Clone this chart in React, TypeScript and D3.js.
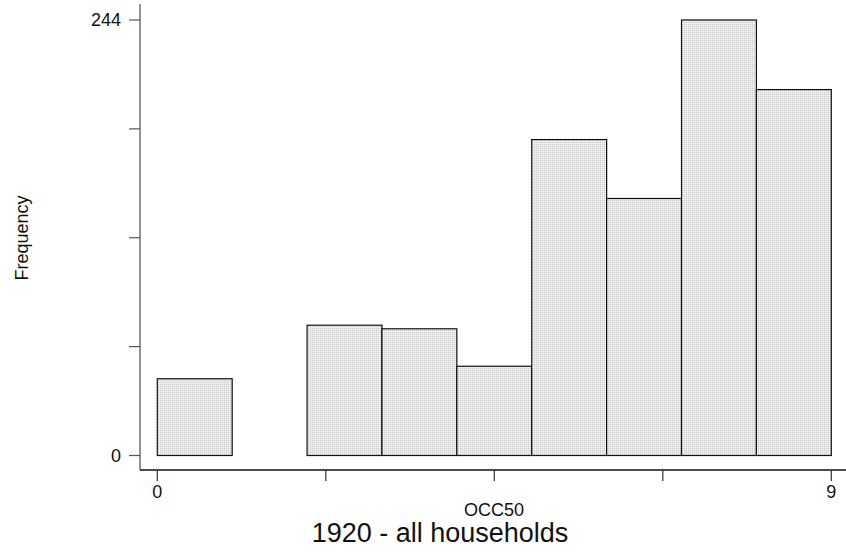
import React from "react";
import * as d3 from "d3";

const binStarts = [0, 1, 2, 3, 4, 5, 6, 7, 8];
const binWidth = 1;
const frequencies = [43, 0, 73, 71, 50, 177, 144, 244, 205];
const yTicks = [0, 61, 122, 183, 244];
const yTickLabels = ["0", "", "", "", "244"];
const xTicks = [0, 2.25, 4.5, 6.75, 9];
const xTickLabels = ["0", "", "", "", "9"];
const xTitle = "OCC50";
const yTitle = "Frequency";
const caption = "1920 - all households";

const W = 846;
const H = 552;
const font = "'Liberation Sans', Arial, Helvetica, sans-serif";

export default function App() {
  const x = d3.scaleLinear().domain([0, 9]).range([157.3, 831.3]);
  const y = d3.scaleLinear().domain([0, 244]).range([455.5, 20]);
  const axisX = 140;
  const axisY = 470;

  return (
    <svg
      width={W}
      height={H}
      viewBox={`0 0 ${W} ${H}`}
      style={{ position: "absolute", left: 0, top: 0, background: "#fff" }}
    >
      <defs>
        <pattern id="dots" width={2} height={2} patternUnits="userSpaceOnUse">
          <rect width={2} height={2} fill="#eeeeee" />
          <rect x={0} y={0} width={1} height={1} fill="#c6c6c6" />
        </pattern>
      </defs>
      <rect width={W} height={H} fill="#fff" />

      {/* bars */}
      {binStarts.map((s, i) =>
        frequencies[i] > 0 ? (
          <rect
            key={i}
            x={x(s)}
            y={y(frequencies[i])}
            width={x(s + binWidth) - x(s)}
            height={y(0) - y(frequencies[i])}
            fill="url(#dots)"
            stroke="#111"
            strokeWidth={1.2}
          />
        ) : null
      )}

      {/* y axis */}
      <line x1={axisX} x2={axisX} y1={4} y2={axisY} stroke="#777" strokeWidth={1.6} />
      {yTicks.map((t, i) => (
        <g key={i}>
          <line x1={axisX - 11} x2={axisX} y1={y(t)} y2={y(t)} stroke="#555" strokeWidth={1.2} />
          {yTickLabels[i] && (
            <text
              x={121}
              y={y(t)}
              dy="0.36em"
              textAnchor="end"
              fontFamily={font}
              fontSize={18}
              fill="#111"
            >
              {yTickLabels[i]}
            </text>
          )}
        </g>
      ))}

      {/* x axis */}
      <line x1={axisX} x2={846} y1={axisY} y2={axisY} stroke="#111" strokeWidth={1.4} />
      {xTicks.map((t, i) => (
        <g key={i}>
          <line x1={x(t)} x2={x(t)} y1={axisY} y2={axisY + 11} stroke="#333" strokeWidth={1.2} />
          {xTickLabels[i] && (
            <text
              x={x(t)}
              y={497.5}
              textAnchor="middle"
              fontFamily={font}
              fontSize={18}
              fill="#111"
            >
              {xTickLabels[i]}
            </text>
          )}
        </g>
      ))}

      <text x={494} y={515.5} textAnchor="middle" fontFamily={font} fontSize={18} fill="#111">
        {xTitle}
      </text>
      <text
        transform={`translate(28,238) rotate(-90)`}
        textAnchor="middle"
        fontFamily={font}
        fontSize={18}
        fill="#111"
      >
        {yTitle}
      </text>
      <text x={440} y={542} textAnchor="middle" fontFamily={font} fontSize={27} fill="#111">
        {caption}
      </text>
    </svg>
  );
}
